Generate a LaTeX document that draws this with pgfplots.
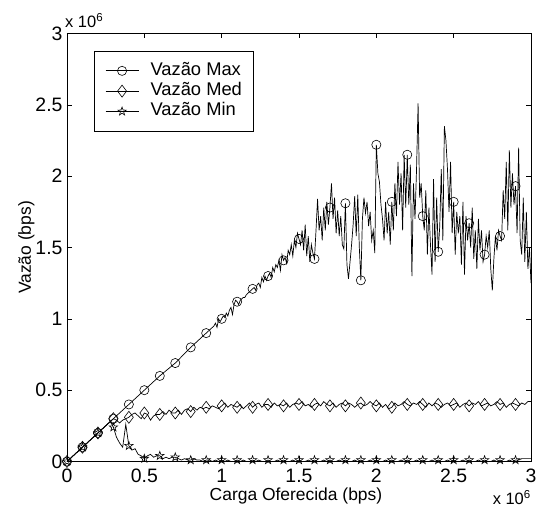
\documentclass[border=0pt]{standalone}
\usepackage{fontspec}
\setmainfont{Liberation Sans}
\usepackage{pgfplots}
\pgfplotsset{compat=1.18}

\pgfdeclareplotmark{fstar}{%
  \pgfpathmoveto{\pgfqpoint{0pt}{\pgfplotmarksize}}%
  \pgfpathlineto{\pgfqpoint{-.235\pgfplotmarksize}{.324\pgfplotmarksize}}%
  \pgfpathlineto{\pgfqpoint{-.951\pgfplotmarksize}{.309\pgfplotmarksize}}%
  \pgfpathlineto{\pgfqpoint{-.380\pgfplotmarksize}{-.124\pgfplotmarksize}}%
  \pgfpathlineto{\pgfqpoint{-.588\pgfplotmarksize}{-.809\pgfplotmarksize}}%
  \pgfpathlineto{\pgfqpoint{0pt}{-.400\pgfplotmarksize}}%
  \pgfpathlineto{\pgfqpoint{.588\pgfplotmarksize}{-.809\pgfplotmarksize}}%
  \pgfpathlineto{\pgfqpoint{.380\pgfplotmarksize}{-.124\pgfplotmarksize}}%
  \pgfpathlineto{\pgfqpoint{.951\pgfplotmarksize}{.309\pgfplotmarksize}}%
  \pgfpathlineto{\pgfqpoint{.235\pgfplotmarksize}{.324\pgfplotmarksize}}%
  \pgfpathclose
  \pgfusepathqstroke
}

\pgfplotstableread{
x y
0.0 0.00
0.1 0.10
0.2 0.20
0.3 0.30
0.4 0.40
0.5 0.50
0.6 0.60
0.7 0.69
0.8 0.80
0.9 0.90
0.91 0.91
0.92 0.92
0.93 0.93
0.94 0.94
0.95 0.95
0.96 0.97
0.97 0.94
0.98 1.00
0.99 0.98
1.00 1.00
1.01 1.02
1.02 1.01
1.03 1.04
1.04 1.02
1.05 1.06
1.06 1.08
1.07 1.03
1.08 1.10
1.09 1.13
1.10 1.12
1.11 1.10
1.12 1.13
1.13 1.14
1.14 1.15
1.15 1.15
1.16 1.17
1.17 1.18
1.18 1.19
1.19 1.20
1.20 1.21
1.21 1.22
1.22 1.20
1.23 1.24
1.24 1.25
1.25 1.22
1.26 1.29
1.27 1.26
1.28 1.30
1.29 1.27
1.30 1.30
1.31 1.32
1.32 1.29
1.33 1.36
1.34 1.33
1.35 1.38
1.36 1.36
1.37 1.41
1.38 1.34
1.39 1.45
1.40 1.41
1.41 1.43
1.42 1.39
1.43 1.48
1.44 1.45
1.45 1.52
1.46 1.44
1.47 1.55
1.48 1.50
1.49 1.60
1.50 1.56
1.51 1.52
1.52 1.62
1.53 1.48
1.54 1.66
1.55 1.44
1.56 1.58
1.57 1.40
1.58 1.52
1.59 1.46
1.60 1.42
1.61 1.62
1.62 1.84
1.63 1.62
1.64 1.72
1.65 1.55
1.66 1.78
1.67 1.62
1.68 1.82
1.69 1.66
1.70 1.78
1.71 1.95
1.72 1.70
1.73 1.85
1.74 1.60
1.75 1.76
1.76 1.58
1.77 1.72
1.78 1.52
1.79 1.49
1.80 1.81
1.81 1.38
1.82 1.28
1.83 1.40
1.84 1.52
1.85 1.66
1.86 1.86
1.87 1.58
1.88 1.87
1.89 1.50
1.90 1.27
1.91 1.70
1.92 1.85
1.93 1.74
1.94 1.82
1.95 1.65
1.96 1.75
1.97 1.55
1.98 1.62
1.99 1.46
2.00 2.22
2.01 2.02
2.02 1.96
2.03 1.80
2.04 1.70
2.05 1.55
2.06 1.82
2.07 1.60
2.08 1.75
2.09 1.52
2.10 1.82
2.11 1.62
2.12 1.95
2.13 1.72
2.14 2.10
2.15 1.80
2.16 2.02
2.17 1.62
2.18 2.15
2.19 1.78
2.20 2.15
2.21 1.80
2.22 2.08
2.23 1.30
2.24 1.95
2.25 1.70
2.26 2.05
2.27 2.51
2.28 1.85
2.29 1.95
2.30 1.72
2.31 1.62
2.32 1.90
2.33 1.45
2.34 1.78
2.35 1.52
2.36 1.31
2.37 1.98
2.38 1.40
2.39 1.85
2.40 1.47
2.41 1.65
2.42 2.05
2.43 1.55
2.44 2.35
2.45 2.25
2.46 2.05
2.47 1.75
2.48 2.10
2.49 1.60
2.50 1.82
2.51 1.45
2.52 1.75
2.53 1.60
2.54 1.72
2.55 1.38
2.56 1.82
2.57 1.31
2.58 1.72
2.59 1.55
2.60 1.67
2.61 1.50
2.62 1.78
2.63 1.42
2.64 1.62
2.65 1.35
2.66 1.70
2.67 1.48
2.68 1.62
2.69 1.40
2.70 1.45
2.71 1.58
2.72 1.50
2.73 1.62
2.74 1.35
2.75 1.20
2.76 1.42
2.77 1.58
2.78 1.48
2.79 1.62
2.80 1.58
2.81 1.55
2.82 1.90
2.83 1.70
2.84 2.10
2.85 1.62
2.86 2.18
2.87 1.78
2.88 2.02
2.89 1.80
2.90 1.93
2.91 1.60
2.92 2.20
2.93 1.55
2.94 1.45
2.95 1.85
2.96 1.40
2.97 1.75
2.98 1.35
2.99 1.50
3.00 1.25
}\maxtable

\pgfplotstableread{
x y
0.00 0.00
0.02 0.02
0.04 0.04
0.06 0.06
0.08 0.08
0.10 0.10
0.12 0.12
0.14 0.14
0.16 0.16
0.18 0.18
0.20 0.20
0.22 0.22
0.24 0.24
0.26 0.26
0.28 0.28
0.30 0.30
0.32 0.29
0.34 0.27
0.36 0.29
0.38 0.30
0.40 0.31
0.42 0.33
0.44 0.34
0.46 0.32
0.48 0.30
0.50 0.34
0.52 0.33
0.54 0.29
0.56 0.32
0.58 0.33
0.60 0.33
0.62 0.35
0.64 0.33
0.66 0.36
0.68 0.34
0.70 0.34
0.72 0.36
0.74 0.33
0.76 0.36
0.78 0.37
0.80 0.35
0.82 0.38
0.84 0.36
0.86 0.38
0.88 0.37
0.90 0.38
0.92 0.37
0.94 0.39
0.96 0.38
0.98 0.37
1.00 0.39
1.02 0.41
1.04 0.38
1.06 0.40
1.08 0.39
1.10 0.38
1.12 0.40
1.14 0.37
1.16 0.39
1.18 0.41
1.20 0.38
1.22 0.40
1.24 0.41
1.26 0.38
1.28 0.40
1.30 0.40
1.32 0.38
1.34 0.41
1.36 0.39
1.38 0.40
1.40 0.39
1.42 0.41
1.44 0.38
1.46 0.40
1.48 0.41
1.50 0.40
1.52 0.42
1.54 0.39
1.56 0.40
1.58 0.38
1.60 0.40
1.62 0.41
1.64 0.39
1.66 0.42
1.68 0.40
1.70 0.39
1.72 0.41
1.74 0.38
1.76 0.40
1.78 0.41
1.80 0.39
1.82 0.41
1.84 0.40
1.86 0.38
1.88 0.40
1.90 0.41
1.92 0.39
1.94 0.40
1.96 0.42
1.98 0.40
2.00 0.39
2.02 0.41
2.04 0.38
2.06 0.40
2.08 0.37
2.10 0.38
2.12 0.41
2.14 0.39
2.16 0.40
2.18 0.42
2.20 0.40
2.22 0.39
2.24 0.41
2.26 0.40
2.28 0.42
2.30 0.40
2.32 0.38
2.34 0.41
2.36 0.39
2.38 0.41
2.40 0.40
2.42 0.38
2.44 0.40
2.46 0.41
2.48 0.39
2.50 0.40
2.52 0.41
2.54 0.38
2.56 0.40
2.58 0.41
2.60 0.39
2.62 0.41
2.64 0.40
2.66 0.42
2.68 0.39
2.70 0.40
2.72 0.41
2.74 0.39
2.76 0.40
2.78 0.42
2.80 0.40
2.82 0.41
2.84 0.38
2.86 0.40
2.88 0.41
2.90 0.40
2.92 0.39
2.94 0.41
2.96 0.40
2.98 0.42
3.00 0.42
}\medtable

\pgfplotstableread{
x y
0.00 0.00
0.02 0.02
0.04 0.04
0.06 0.06
0.08 0.08
0.10 0.10
0.12 0.12
0.14 0.14
0.16 0.16
0.18 0.18
0.20 0.20
0.22 0.22
0.24 0.24
0.26 0.26
0.28 0.28
0.30 0.24
0.32 0.17
0.34 0.13
0.36 0.10
0.38 0.26
0.40 0.11
0.42 0.08
0.44 0.09
0.46 0.05
0.48 0.04
0.50 0.02
0.52 0.04
0.54 0.05
0.56 0.03
0.58 0.04
0.60 0.04
0.62 0.02
0.64 0.03
0.66 0.02
0.68 0.03
0.70 0.03
0.72 0.02
0.74 0.01
0.76 0.02
0.78 0.01
0.80 0.01
0.82 0.02
0.84 0.01
0.86 0.01
0.88 0.00
0.90 0.01
0.92 0.01
0.94 0.00
0.96 0.01
0.98 0.00
1.00 0.01
1.02 0.00
1.04 0.01
1.06 0.00
1.08 0.00
1.10 0.01
1.12 0.00
1.14 0.01
1.16 0.00
1.18 0.00
1.20 0.01
1.22 0.00
1.24 0.01
1.26 0.00
1.28 0.00
1.30 0.01
1.32 0.00
1.34 0.00
1.36 0.01
1.38 0.00
1.40 0.01
1.42 0.00
1.44 0.00
1.46 0.01
1.48 0.00
1.50 0.01
1.52 0.00
1.54 0.00
1.56 0.01
1.58 0.00
1.60 0.01
1.62 0.00
1.64 0.00
1.66 0.01
1.68 0.00
1.70 0.01
1.72 0.00
1.74 0.00
1.76 0.01
1.78 0.00
1.80 0.01
1.82 0.00
1.84 0.00
1.86 0.01
1.88 0.00
1.90 0.01
1.92 0.00
1.94 0.00
1.96 0.01
1.98 0.00
2.00 0.01
2.02 0.00
2.04 0.00
2.06 0.01
2.08 0.00
2.10 0.01
2.12 0.00
2.14 0.00
2.16 0.01
2.18 0.00
2.20 0.01
2.22 0.00
2.24 0.00
2.26 0.01
2.28 0.00
2.30 0.01
2.32 0.00
2.34 0.00
2.36 0.01
2.38 0.00
2.40 0.01
2.42 0.00
2.44 0.00
2.46 0.01
2.48 0.00
2.50 0.01
2.52 0.00
2.54 0.00
2.56 0.01
2.58 0.00
2.60 0.01
2.62 0.00
2.64 0.00
2.66 0.01
2.68 0.00
2.70 0.01
2.72 0.00
2.74 0.00
2.76 0.01
2.78 0.00
2.80 0.01
2.82 0.00
2.84 0.00
2.86 0.01
2.88 0.00
2.90 0.01
2.92 0.01
2.94 0.02
2.96 0.02
2.98 0.02
3.00 0.02
}\mintable

\begin{document}
\begin{tikzpicture}
\begin{axis}[
  name=ax,
  scale only axis,
  width=464bp, height=428bp,
  xmin=0, xmax=3, ymin=0, ymax=3,
  xtick={0,0.5,1,1.5,2,2.5,3},
  ytick={0,0.5,1,1.5,2,2.5,3},
  tick align=inside,
  major tick length=5bp,
  axis line style={line width=0.8bp},
  every tick/.style={black, line width=0.6bp},
  /pgf/number format/assume math mode=true,
  tick label style={font=\fontsize{19.5}{21}\selectfont},
  xticklabel style={anchor=base, yshift=-21bp},
  yticklabel style={anchor=east, xshift=-1bp},
  xlabel={Carga Oferecida (bps)},
  ylabel={Vazão (bps)},
  label style={font=\fontsize{17.5}{20}\selectfont},
  xlabel style={at={(axis description cs:0.4935,-0.09)}, anchor=base},
  ylabel style={at={(axis description cs:-0.0776,0.5)}, anchor=base},
  legend cell align=left,
  legend style={
    at={(axis description cs:0.058,0.959)}, anchor=north west,
    draw=black, line width=0.6bp, fill=white,
    inner xsep=11bp, inner ysep=11bp,
    font=\fontsize{18.4}{20}\selectfont,
    nodes={inner sep=0bp, text height=13bp, text depth=4bp},
    row sep=3.3bp,
  },
  legend image code/.code={%
    \path[draw=none, fill=none] (0bp,0bp) -- (45bp,0bp);%
    \draw[mark indices={2}] plot coordinates {(0bp,0bp) (16.5bp,0bp) (33bp,0bp)};%
  },
]
\addplot[black, line width=0.7bp, mark=o, mark size=4.6bp,
  mark options={solid, line width=0.6bp},
  mark indices={1,2,3,4,5,6,7,8,9,10,20,30,40,50,60,70,80,90,100,110,120,130,140,150,160,170,180,190,200,210}]
  table[x=x, y=y] {\maxtable};
\addlegendentry{Vazão Max}
\addplot[black, line width=0.7bp, mark=diamond, mark size=6bp,
  mark options={solid, line width=0.6bp},
  mark indices={1,6,11,16,21,26,31,36,41,46,51,56,61,66,71,76,81,86,91,96,101,106,111,116,121,126,131,136,141,146}]
  table[x=x, y=y] {\medtable};
\addlegendentry{Vazão Med}
\addplot[black, line width=0.7bp, mark=fstar, mark size=4.4bp,
  mark options={solid, line width=0.6bp},
  mark indices={1,6,11,16,21,26,31,36,41,46,51,56,61,66,71,76,81,86,91,96,101,106,111,116,121,126,131,136,141,146}]
  table[x=x, y=y] {\mintable};
\addlegendentry{Vazão Min}
\end{axis}
\node[anchor=base west, font=\fontsize{16.5}{18}\selectfont, inner sep=0pt]
  at ([xshift=-2bp, yshift=5.5bp]ax.north west) {x 10\textsuperscript{6}};
\node[anchor=base east, font=\fontsize{16.5}{18}\selectfont, inner sep=0pt]
  at ([xshift=0bp, yshift=-43bp]ax.south east) {x 10\textsuperscript{6}};
\pgfresetboundingbox
\path ([xshift=-67bp, yshift=-47.5bp]ax.south west) rectangle ++(539bp,509bp);
\end{tikzpicture}
\end{document}
